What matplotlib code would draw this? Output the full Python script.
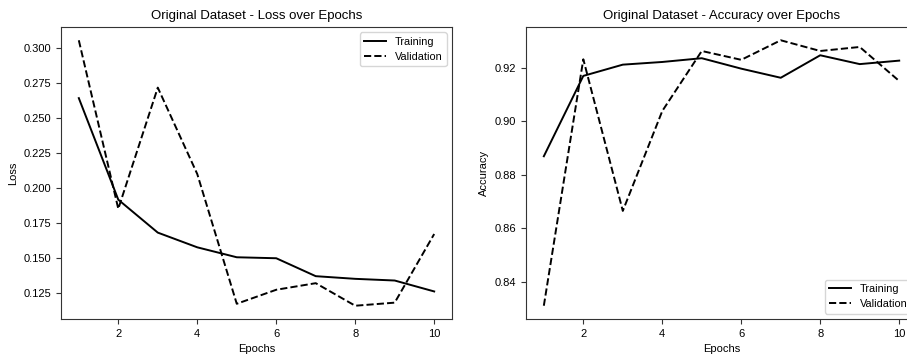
import numpy as np
from matplotlib import pyplot as plt

plt.rcParams['font.family'] = ['Liberation Sans', 'DejaVu Sans']

epochs = [1, 2, 3, 4, 5, 6, 7, 8, 9, 10]
train_loss = [0.264, 0.1915, 0.168, 0.1575, 0.1504, 0.1497, 0.1369, 0.135, 0.1338, 0.126]
val_loss = [0.3053, 0.185, 0.2715, 0.2098, 0.1172, 0.1272, 0.1319, 0.1158, 0.118, 0.167]
train_acc = [0.8869, 0.9169, 0.9211, 0.9221, 0.9235, 0.9196, 0.9162, 0.9246, 0.9213, 0.9226]
val_acc = [0.8311, 0.9231, 0.8665, 0.9038, 0.9262, 0.9229, 0.9302, 0.9262, 0.9277, 0.915]

fig = plt.figure(figsize=(9.07, 3.59), dpi=100)
ax1 = fig.add_axes([0.0673, 0.1114, 0.431, 0.8134])
ax2 = fig.add_axes([0.58, 0.1114, 0.431, 0.8134])

ax1.plot(epochs, train_loss, color='black', lw=1.4, label='Training')
ax1.plot(epochs, val_loss, color='black', lw=1.4, ls='--', label='Validation')
ax1.set_title('Original Dataset - Loss over Epochs', fontsize=9.5)
ax1.set_xlabel('Epochs', fontsize=8)
ax1.set_ylabel('Loss', fontsize=8)
ax1.legend(loc='upper right', fontsize=7.8)

ax2.plot(epochs, train_acc, color='black', lw=1.4, label='Training')
ax2.plot(epochs, val_acc, color='black', lw=1.4, ls='--', label='Validation')
ax2.set_title('Original Dataset - Accuracy over Epochs', fontsize=9.5)
ax2.set_xlabel('Epochs', fontsize=8)
ax2.set_ylabel('Accuracy', fontsize=8)
ax2.legend(loc='lower right', fontsize=7.8)

for ax in (ax1, ax2):
    ax.tick_params(labelsize=8, length=3.5, color='#333333')
    ax.set_xticks([2, 4, 6, 8, 10])
    for s in ax.spines.values():
        s.set_color('#333333')

ax1.set_yticks([0.125, 0.150, 0.175, 0.200, 0.225, 0.250, 0.275, 0.300])
ax2.set_yticks([0.84, 0.86, 0.88, 0.90, 0.92])

fig.savefig('out.png', dpi=100)
